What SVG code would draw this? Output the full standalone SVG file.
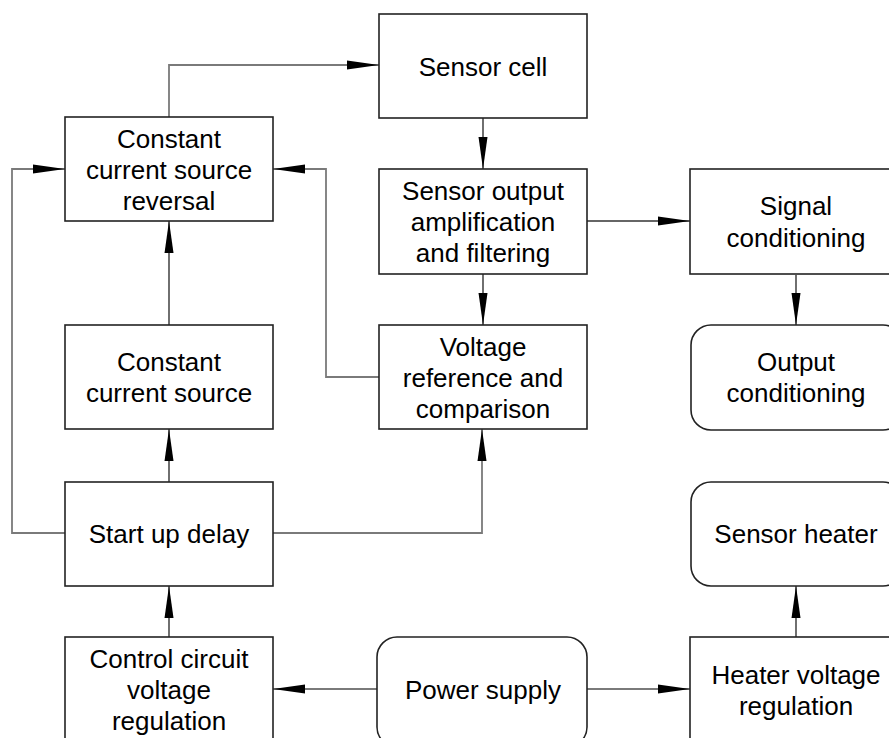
<svg xmlns="http://www.w3.org/2000/svg" width="889" height="738" viewBox="0 0 889 738">
<style>
.box{fill:#fff;stroke:#222;stroke-width:1.6}
.t{font-family:"Liberation Sans",Arial,sans-serif;font-size:26px;fill:#000;text-anchor:middle}
.c{fill:none;stroke:#333;stroke-width:1.4}
.g{fill:none;stroke:#7a7a7a;stroke-width:1.8}
</style>
<defs>
<marker id="ah" markerUnits="userSpaceOnUse" markerWidth="32" markerHeight="10" refX="32" refY="5" orient="auto">
<path d="M0,0.5 L32,5 L0,9.5 Z" fill="#000"/>
</marker>
</defs>
<rect width="889" height="738" fill="#fff"/>
<g id="connectors">
<path class="g" d="M169,117 V65 H379" marker-end="url(#ah)"/>
<path class="g" d="M65,533 H12 V169 H65" marker-end="url(#ah)"/>
<path class="g" d="M379,377 H326 V169 H273" marker-end="url(#ah)"/>
<path class="c" d="M169,325 V221" marker-end="url(#ah)"/>
<path class="c" d="M169,482 V429" marker-end="url(#ah)"/>
<path class="c" d="M169,637 V586" marker-end="url(#ah)"/>
<path class="g" d="M377,689 H273" marker-end="url(#ah)"/>
<path class="g" d="M587,689 H690" marker-end="url(#ah)"/>
<path class="c" d="M796,637 V586" marker-end="url(#ah)"/>
<path class="g" d="M273,533 H482 V429" marker-end="url(#ah)"/>
<path class="c" d="M483,118 V169" marker-end="url(#ah)"/>
<path class="c" d="M483,274 V325" marker-end="url(#ah)"/>
<path class="c" d="M587,221 H690" marker-end="url(#ah)"/>
<path class="c" d="M796,275 V325" marker-end="url(#ah)"/>
</g>
<g id="ccsr"><rect class="box" x="65" y="117" width="208" height="104"/>
<text class="t" x="169" y="148">Constant</text><text class="t" x="169" y="179">current source</text><text class="t" x="169" y="210">reversal</text></g>
<g id="ccs"><rect class="box" x="65" y="325" width="208" height="104"/>
<text class="t" x="169" y="371">Constant</text><text class="t" x="169" y="402">current source</text></g>
<g id="startup"><rect class="box" x="65" y="482" width="208" height="104"/>
<text class="t" x="169" y="543">Start up delay</text></g>
<g id="control"><rect class="box" x="65" y="637" width="208" height="104"/>
<text class="t" x="169" y="668">Control circuit</text><text class="t" x="169" y="699">voltage</text><text class="t" x="169" y="730">regulation</text></g>
<g id="sensorcell"><rect class="box" x="379" y="14" width="208" height="104"/>
<text class="t" x="483" y="76">Sensor cell</text></g>
<g id="amp"><rect class="box" x="379" y="169" width="208" height="105"/>
<text class="t" x="483" y="200">Sensor output</text><text class="t" x="483" y="231">amplification</text><text class="t" x="483" y="262">and filtering</text></g>
<g id="vref"><rect class="box" x="379" y="325" width="208" height="104"/>
<text class="t" x="483" y="356">Voltage</text><text class="t" x="483" y="387">reference and</text><text class="t" x="483" y="418">comparison</text></g>
<g id="power"><rect class="box" x="377" y="637" width="210" height="110" rx="20" ry="20"/>
<text class="t" x="483" y="699">Power supply</text></g>
<g id="signal"><rect class="box" x="690" y="169" width="212" height="105"/>
<text class="t" x="796" y="215">Signal</text><text class="t" x="796" y="247">conditioning</text></g>
<g id="output"><rect class="box" x="691" y="325" width="212" height="105" rx="20" ry="20"/>
<text class="t" x="796" y="371">Output</text><text class="t" x="796" y="402">conditioning</text></g>
<g id="heater"><rect class="box" x="691" y="482" width="212" height="104" rx="20" ry="20"/>
<text class="t" x="796" y="543">Sensor heater</text></g>
<g id="heaterreg"><rect class="box" x="690" y="637" width="212" height="110"/>
<text class="t" x="796" y="684">Heater voltage</text><text class="t" x="796" y="715">regulation</text></g>
</svg>
